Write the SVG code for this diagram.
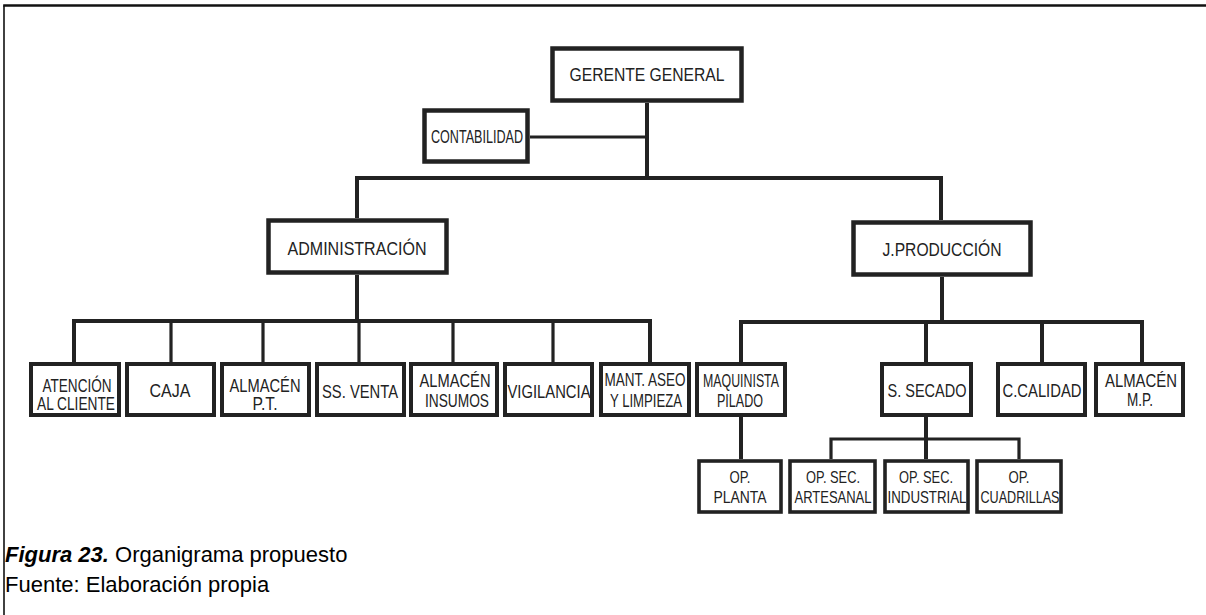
<svg xmlns="http://www.w3.org/2000/svg" width="1206" height="615" viewBox="0 0 1206 615">
  <style>
    .frame { fill: none; stroke: #111; }
    .box { fill: #fff; stroke: #222; stroke-width: 4.5; }
    .box.sm { stroke-width: 4; }
    .box.xs { stroke-width: 3.6; }
    .wire { fill: none; stroke: #222; stroke-linejoin: miter; stroke-linecap: butt; }
    .w4 { stroke-width: 4; }
    .w3 { stroke-width: 3.2; }
    .lbl { font-family: "Liberation Sans", Arial, sans-serif; fill: #222; text-anchor: middle; }
    .l1 { font-size: 19px; }
    .l2 { font-size: 18px; }
    .l3 { font-size: 17px; }
    .cap { font-family: "Liberation Sans", Arial, sans-serif; font-size: 22px; fill: #000; }
  </style>

  <!-- page frame -->
  <path class="frame" d="M4,615 V5.5" stroke-width="1.6"/>
  <path class="frame" d="M3.2,5.5 H1206" stroke-width="2.6"/>

  <!-- connectors -->
  <g id="connectors">
    <path class="wire w4" d="M647,103 V180"/>
    <path class="wire w3" d="M530,137 H647"/>
    <path class="wire w4" d="M357,218 V178 H941 V220"/>
    <path class="wire w4" d="M357,275 V321"/>
    <path class="wire w4" d="M74,362 V321 H650 V362"/>
    <path class="wire w3" d="M171,321 V362 M263,321 V362 M359,321 V362 M453,321 V362 M553,321 V362"/>
    <path class="wire w4" d="M942,277 V322"/>
    <path class="wire w4" d="M741,362 V322 H1142 V362"/>
    <path class="wire w4" d="M926,322 V362 M1042,322 V362"/>
    <path class="wire w4" d="M741,417 V459"/>
    <path class="wire w4" d="M926,417 V459"/>
    <path class="wire w3" d="M831,459 V439 H1019 V459"/>
  </g>

  <!-- top level -->
  <g id="gerente-general">
    <rect class="box" x="552.5" y="48.5" width="189" height="52"/>
    <text class="lbl l1" x="647" y="81" textLength="155" lengthAdjust="spacingAndGlyphs">GERENTE GENERAL</text>
  </g>
  <g id="contabilidad">
    <rect class="box" x="424.5" y="110.5" width="103" height="51"/>
    <text class="lbl l2" x="477" y="143" textLength="92" lengthAdjust="spacingAndGlyphs">CONTABILIDAD</text>
  </g>

  <!-- second level -->
  <g id="administracion">
    <rect class="box" x="268.5" y="220.5" width="178" height="52"/>
    <text class="lbl l1" x="357" y="255" textLength="139" lengthAdjust="spacingAndGlyphs">ADMINISTRACIÓN</text>
  </g>
  <g id="j-produccion">
    <rect class="box" x="853.5" y="222.5" width="177" height="52"/>
    <text class="lbl l1" x="942" y="256" textLength="119" lengthAdjust="spacingAndGlyphs">J.PRODUCCIÓN</text>
  </g>

  <!-- administration units -->
  <g id="atencion-cliente">
    <rect class="box sm" x="31" y="364" width="88" height="51"/>
    <text class="lbl l2" x="77" y="392" textLength="69" lengthAdjust="spacingAndGlyphs">ATENCIÓN</text>
    <text class="lbl l2" x="76" y="410" textLength="78" lengthAdjust="spacingAndGlyphs">AL CLIENTE</text>
  </g>
  <g id="caja">
    <rect class="box sm" x="127" y="364" width="87" height="51"/>
    <text class="lbl l2" x="170" y="397" textLength="41" lengthAdjust="spacingAndGlyphs">CAJA</text>
  </g>
  <g id="almacen-pt">
    <rect class="box sm" x="222" y="364" width="87" height="51"/>
    <text class="lbl l2" x="265" y="392" textLength="71" lengthAdjust="spacingAndGlyphs">ALMACÉN</text>
    <text class="lbl l2" x="265" y="410" textLength="25" lengthAdjust="spacingAndGlyphs">P.T.</text>
  </g>
  <g id="ss-venta">
    <rect class="box sm" x="317" y="364" width="87" height="51"/>
    <text class="lbl l2" x="360" y="398" textLength="76" lengthAdjust="spacingAndGlyphs">SS. VENTA</text>
  </g>
  <g id="almacen-insumos">
    <rect class="box sm" x="411" y="364" width="86" height="51"/>
    <text class="lbl l2" x="455" y="387" textLength="71" lengthAdjust="spacingAndGlyphs">ALMACÉN</text>
    <text class="lbl l2" x="457" y="407" textLength="64" lengthAdjust="spacingAndGlyphs">INSUMOS</text>
  </g>
  <g id="vigilancia">
    <rect class="box sm" x="505" y="364" width="87" height="51"/>
    <text class="lbl l2" x="549" y="398" textLength="83" lengthAdjust="spacingAndGlyphs">VIGILANCIA</text>
  </g>
  <g id="mant-aseo-limpieza">
    <rect class="box sm" x="601" y="364" width="88" height="51"/>
    <text class="lbl l2" x="645" y="386" textLength="81" lengthAdjust="spacingAndGlyphs">MANT. ASEO</text>
    <text class="lbl l2" x="646" y="407" textLength="72" lengthAdjust="spacingAndGlyphs">Y LIMPIEZA</text>
  </g>

  <!-- production units -->
  <g id="maquinista-pilado">
    <rect class="box sm" x="697" y="364" width="88" height="51"/>
    <text class="lbl l2" x="741" y="387" textLength="76" lengthAdjust="spacingAndGlyphs">MAQUINISTA</text>
    <text class="lbl l2" x="740" y="407" textLength="46" lengthAdjust="spacingAndGlyphs">PILADO</text>
  </g>
  <g id="s-secado">
    <rect class="box sm" x="882" y="364" width="89" height="51"/>
    <text class="lbl l2" x="927" y="397" textLength="79" lengthAdjust="spacingAndGlyphs">S. SECADO</text>
  </g>
  <g id="c-calidad">
    <rect class="box sm" x="998" y="364" width="87" height="51"/>
    <text class="lbl l2" x="1042" y="397" textLength="79" lengthAdjust="spacingAndGlyphs">C.CALIDAD</text>
  </g>
  <g id="almacen-mp">
    <rect class="box sm" x="1096" y="364" width="87" height="51"/>
    <text class="lbl l2" x="1141" y="387" textLength="72" lengthAdjust="spacingAndGlyphs">ALMACÉN</text>
    <text class="lbl l2" x="1140" y="406" textLength="26" lengthAdjust="spacingAndGlyphs">M.P.</text>
  </g>

  <!-- operators -->
  <g id="op-planta">
    <rect class="box xs" x="699" y="461" width="82" height="51"/>
    <text class="lbl l3" x="740" y="483" textLength="21" lengthAdjust="spacingAndGlyphs">OP.</text>
    <text class="lbl l3" x="740" y="503" textLength="53" lengthAdjust="spacingAndGlyphs">PLANTA</text>
  </g>
  <g id="op-sec-artesanal">
    <rect class="box xs" x="790" y="461" width="85" height="51"/>
    <text class="lbl l3" x="833" y="483" textLength="54" lengthAdjust="spacingAndGlyphs">OP. SEC.</text>
    <text class="lbl l3" x="833" y="503" textLength="77" lengthAdjust="spacingAndGlyphs">ARTESANAL</text>
  </g>
  <g id="op-sec-industrial">
    <rect class="box xs" x="885" y="461" width="83" height="51"/>
    <text class="lbl l3" x="926" y="483" textLength="54" lengthAdjust="spacingAndGlyphs">OP. SEC.</text>
    <text class="lbl l3" x="927" y="503" textLength="79" lengthAdjust="spacingAndGlyphs">INDUSTRIAL</text>
  </g>
  <g id="op-cuadrillas">
    <rect class="box xs" x="977" y="461" width="84" height="51"/>
    <text class="lbl l3" x="1019" y="483" textLength="21" lengthAdjust="spacingAndGlyphs">OP.</text>
    <text class="lbl l3" x="1020" y="503" textLength="79" lengthAdjust="spacingAndGlyphs">CUADRILLAS</text>
  </g>

  <!-- caption -->
  <text class="cap" x="5" y="562"><tspan font-weight="bold" font-style="italic">Figura 23.</tspan> Organigrama propuesto</text>
  <text class="cap" x="5" y="592">Fuente: Elaboración propia</text>
</svg>
